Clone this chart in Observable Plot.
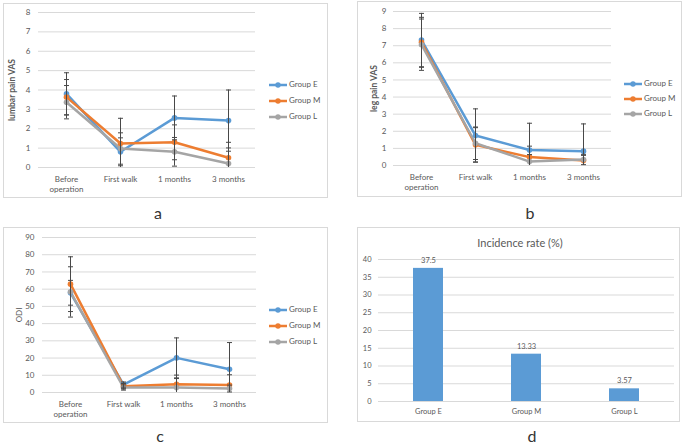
<!DOCTYPE html>
<html><head><meta charset="utf-8">
<script src="https://cdn.jsdelivr.net/npm/d3@7"></script>
<script src="https://cdn.jsdelivr.net/npm/@observablehq/plot@0.6"></script>
<style>
body{margin:0;background:#fff;font-family:Lato,sans-serif;}
#root{position:relative;width:685px;height:444px;overflow:hidden;background:#fff;}
.frame{position:absolute;border:1px solid #d9d9d9;box-sizing:border-box;}
.abs{position:absolute;}
.abs svg{overflow:visible;}
.leg{position:absolute;font:8px Lato,sans-serif;color:#595959;white-space:nowrap;line-height:10px;}
.leg svg{vertical-align:middle;margin-right:2px;}
.letter{position:absolute;font:16px Lato,sans-serif;line-height:13px;color:#333;transform:translate(-50%,-50%);}
.title{position:absolute;font:11px Lato,sans-serif;color:#595959;transform:translate(-50%,-50%);white-space:nowrap;}
</style></head><body><div id="root"></div>
<script>
// ---------- data ----------
const timepoints = ["Before\noperation", "First walk", "1 months", "3 months"];
const groups = ["Group E", "Group M", "Group L"];
const colors = ["#5B9BD5", "#ED7D31", "#A5A5A5"];

// a: lumbar pain VAS (mean, sd)
const lumbarE = [3.80, 0.81, 2.56, 2.42];
const lumbarM = [3.63, 1.24, 1.30, 0.50];
const lumbarL = [3.37, 0.98, 0.81, 0.21];
const lumbarSdE = [1.09, 0.72, 1.13, 1.58];
const lumbarSdM = [0.91, 1.30, 0.90, 0.80];
const lumbarSdL = [0.86, 0.81, 0.74, 0.80];

// b: leg pain VAS
const legE = [7.33, 1.75, 0.91, 0.84];
const legM = [7.20, 1.21, 0.49, 0.29];
const legL = [7.06, 1.30, 0.23, 0.35];
const legSdE = [1.56, 1.56, 1.56, 1.59];
const legSdM = [1.46, 1.00, 0.64, 0.30];
const legSdL = [1.50, 0.95, 0.41, 0.30];

// c: ODI
const odiE = [57.9, 4.6, 20.1, 13.5];
const odiM = [62.9, 3.7, 4.8, 4.3];
const odiL = [58.4, 2.9, 2.9, 2.3];
const odiSdE = [7.2, 1.5, 11.6, 15.5];
const odiSdM = [15.9, 1.5, 5.3, 6.0];
const odiSdL = [14.6, 1.5, 5.2, 2.0];

// d: incidence rate (%)
const incidence = [37.5, 13.33, 3.57];

// ---------- helpers ----------
const root = document.getElementById("root");
function add(html, cls, style) {
  const d = document.createElement("div");
  d.className = cls;
  Object.assign(d.style, style);
  if (html != null) d.innerHTML = html;
  root.appendChild(d);
  return d;
}
function frame(l, t, r, b) {
  add(null, "frame", {left: l + "px", top: t + "px", width: (r - l) + "px", height: (b - t) + "px"});
}
function legend(x, ys) {
  groups.forEach((g, i) => {
    add(`<svg width="18" height="6"><line x1="0" x2="18" y1="3" y2="3" stroke="${colors[i]}" stroke-width="2.5"/><circle cx="9" cy="3" r="2.7" fill="${colors[i]}"/></svg>${g}`,
      "leg", {left: x + "px", top: (ys[i] - 5) + "px"});
  });
}
const capSymbol = {draw(ctx) { ctx.moveTo(-2.5, 0); ctx.lineTo(2.5, 0); }};

function linePanel(c) {
  const rows = [];
  groups.forEach((g, i) => timepoints.forEach((t, j) => {
    rows.push({g, t, v: c.means[i][j], sd: c.sds[i][j]});
  }));
  const ymax = c.yMax;
  const err = rows.map(d => ({t: d.t, lo: Math.max(0, d.v - d.sd), hi: Math.min(ymax, d.v + d.sd)}));
  const caps = [];
  rows.forEach(d => {
    if (d.v + d.sd <= ymax) caps.push({t: d.t, v: d.v + d.sd});
    if (d.v - d.sd >= 0) caps.push({t: d.t, v: d.v - d.sd});
  });
  const yTicks = d3.range(0, ymax + c.yStep / 2, c.yStep);
  const svg = Plot.plot({
    width: c.width, height: c.height,
    marginLeft: c.ml, marginRight: c.mr, marginTop: c.mt, marginBottom: c.mb,
    style: {fontFamily: "Lato, sans-serif", fontSize: "8px", color: "#595959", background: "transparent", overflow: "visible"},
    x: {type: "point", domain: timepoints, padding: 0.5, axis: null},
    y: {domain: [0, ymax], ticks: yTicks, tickSize: 0, tickPadding: c.tp, label: null},
    color: {domain: groups, range: colors},
    marks: [
      Plot.ruleY(yTicks, {stroke: "#d9d9d9", strokeWidth: 1}),
      Plot.line(rows, {x: "t", y: "v", z: "g", stroke: "g", strokeWidth: 2.5}),
      Plot.dot(rows, {x: "t", y: "v", fill: "g", r: 2.8}),
      Plot.ruleX(err, {x: "t", y1: "lo", y2: "hi", stroke: "#484848", strokeWidth: 1}),
      Plot.dot(caps, {x: "t", y: "v", symbol: capSymbol, stroke: "#484848", strokeWidth: 1, fill: "none"}),
      Plot.text(timepoints, {x: d => d, text: d => d, frameAnchor: "bottom", lineAnchor: "top", dy: 7, lineHeight: 1.25, fill: "#595959", fontSize: 8}),
      Plot.text([c.yLabel], {frameAnchor: "left", textAnchor: "middle", rotate: -90, dx: c.ldx, fill: "#595959", fontSize: c.lfs, fontWeight: c.bold ? "bold" : "normal"})
    ]
  });
  const holder = add(null, "abs", {left: c.left + "px", top: c.top + "px"});
  holder.appendChild(svg);
}

// ---------- panel a ----------
frame(3, 3, 328, 198);
linePanel({left: 0, top: 0, width: 330, height: 200, ml: 38, mr: 75, mt: 12, mb: 33, tp: 8,
  yMax: 8, yStep: 1, means: [lumbarE, lumbarM, lumbarL], sds: [lumbarSdE, lumbarSdM, lumbarSdL],
  yLabel: "lumbar pain VAS", bold: true, ldx: -26, lfs: 8.5});
legend(269, [84, 100, 116]);
add("a", "letter", {left: "158px", top: "212px"});

// ---------- panel b ----------
frame(357, 1, 682, 197);
linePanel({left: 345, top: 0, width: 340, height: 200, ml: 48, mr: 74, mt: 11, mb: 35, tp: 7,
  yMax: 9, yStep: 1, means: [legE, legM, legL], sds: [legSdE, legSdM, legSdL],
  yLabel: "leg pain VAS", bold: true, ldx: -19, lfs: 8.5});
legend(624, [83, 98, 113]);
add("b", "letter", {left: "530px", top: "212px"});

// ---------- panel c ----------
frame(3, 227, 328, 423);
linePanel({left: 0, top: 225, width: 330, height: 200, ml: 42, mr: 74, mt: 12, mb: 33, tp: 8,
  yMax: 90, yStep: 10, means: [odiE, odiM, odiL], sds: [odiSdE, odiSdM, odiSdL],
  yLabel: "ODI", bold: false, ldx: -23, lfs: 8});
legend(269, [309, 325, 341]);
add("c", "letter", {left: "160px", top: "435px"});

// ---------- panel d ----------
frame(357, 227, 680, 422);
const barRows = groups.map((g, i) => ({g, v: incidence[i]}));
const dTicks = d3.range(0, 41, 5);
const svgD = Plot.plot({
  width: 340, height: 200, marginLeft: 33, marginRight: 11, marginTop: 34, marginBottom: 24,
  style: {fontFamily: "Lato, sans-serif", fontSize: "7.5px", color: "#595959", background: "transparent", overflow: "visible"},
  x: {domain: groups, paddingInner: 0.69, paddingOuter: 0.345, tickSize: 0, tickPadding: 7, label: null},
  y: {domain: [0, 40], ticks: dTicks, tickSize: 0, tickPadding: 7, label: null},
  marks: [
    Plot.ruleY(dTicks, {stroke: "#d9d9d9", strokeWidth: 1}),
    Plot.barY(barRows, {x: "g", y: "v", fill: "#5B9BD5"}),
    Plot.text(barRows, {x: "g", y: "v", text: d => String(d.v), dy: -8, fill: "#595959", fontSize: 7.5})
  ]
});
add(null, "abs", {left: "345px", top: "225px"}).appendChild(svgD);
add("Incidence rate (%)", "title", {left: "520px", top: "242px"});
add("d", "letter", {left: "532px", top: "435px"});
</script></body></html>
